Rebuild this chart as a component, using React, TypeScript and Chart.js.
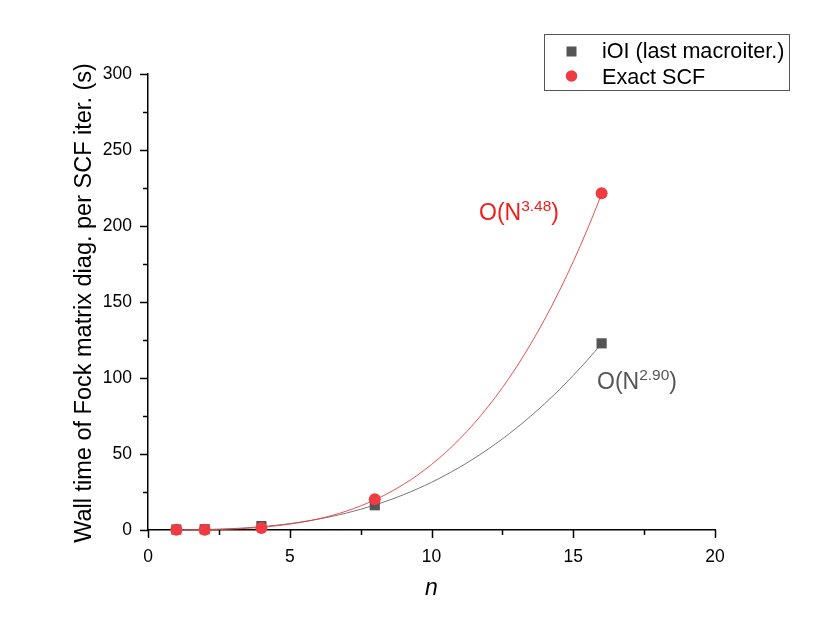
import React, { useEffect, useRef } from 'react';
import { Chart, registerables } from 'chart.js';

Chart.register(...registerables);

// ---- data ----
const nValues = [1, 2, 4, 8, 16];
const ioiTimes = [0.3, 0.5, 2.6, 16.3, 122.8];
const exactTimes = [0.1, 0.2, 1.3, 20.2, 221.5];
// power-law fits y = coef * n^exponent (exponents as labelled on the chart)
const ioiFitCoef = 0.0395;
const ioiFitExponent = 2.9;
const exactFitCoef = 0.01426;
const exactFitExponent = 3.48;
const fitRange = [1, 16];
const xMajorTicks = [0, 5, 10, 15, 20];
const yMajorTicks = [0, 50, 100, 150, 200, 250, 300];

const legendLabels = ['iOI (last macroiter.)', 'Exact SCF'];
const yTitle = 'Wall time of Fock matrix diag. per SCF iter. (s)';
const xTitle = 'n';

const FONT = '"Liberation Sans", Arial, Helvetica, sans-serif';
const RED = '#EF3B41';
const GRAY = '#555555';

function fitCurve(coef: number, exponent: number) {
  const pts: { x: number; y: number }[] = [];
  for (let x = fitRange[0]; x <= fitRange[1] + 1e-9; x += 0.25) {
    pts.push({ x, y: coef * Math.pow(x, exponent) });
  }
  return pts;
}

const decor = {
  id: 'decor',
  afterDraw(chart: any) {
    const ctx: CanvasRenderingContext2D = chart.ctx;
    const xs = chart.scales.x;
    const ys = chart.scales.y;
    const area = chart.chartArea;
    ctx.save();
    // tick marks (major + minor), outward
    ctx.strokeStyle = '#000';
    ctx.lineWidth = 1.5;
    for (let v = 0; v <= 20 + 1e-9; v += 2.5) {
      const px = Math.round(xs.getPixelForValue(v)) + 0.5;
      const len = xMajorTicks.includes(v) ? 8 : 5;
      ctx.beginPath();
      ctx.moveTo(px, area.bottom);
      ctx.lineTo(px, area.bottom + len);
      ctx.stroke();
    }
    for (let v = 0; v <= 300 + 1e-9; v += 25) {
      const py = Math.round(ys.getPixelForValue(v)) + 0.5;
      const len = yMajorTicks.includes(v) ? 8 : 5;
      ctx.beginPath();
      ctx.moveTo(area.left, py);
      ctx.lineTo(area.left - len, py);
      ctx.stroke();
    }

    // axis titles
    ctx.fillStyle = '#000';
    ctx.font = `23.5px ${FONT}`;
    ctx.textAlign = 'center';
    ctx.textBaseline = 'alphabetic';
    ctx.save();
    ctx.translate(91, (area.top + area.bottom) / 2 + 1);
    ctx.rotate(-Math.PI / 2);
    ctx.fillText(yTitle, 0, 0);
    ctx.restore();
    ctx.font = `italic 23px ${FONT}`;
    ctx.fillText(xTitle, (area.left + area.right) / 2, 595);

    // legend
    ctx.strokeStyle = '#555';
    ctx.lineWidth = 1;
    ctx.strokeRect(544.5, 34.5, 245, 56);
    ctx.fillStyle = GRAY;
    ctx.fillRect(566.5, 46.5, 10, 10);
    ctx.fillStyle = RED;
    ctx.beginPath();
    ctx.arc(571.5, 76, 5.8, 0, Math.PI * 2);
    ctx.fill();
    ctx.fillStyle = '#000';
    ctx.font = `21.6px ${FONT}`;
    ctx.textAlign = 'left';
    ctx.fillText(legendLabels[0], 602, 58);
    ctx.fillText(legendLabels[1], 602, 84);

    // scaling annotations
    const annot = (x: number, y: number, exp: string, color: string) => {
      ctx.fillStyle = color;
      ctx.textAlign = 'left';
      ctx.font = `23px ${FONT}`;
      const a = 'O(N';
      ctx.fillText(a, x, y);
      let cx = x + ctx.measureText(a).width;
      ctx.font = `15.5px ${FONT}`;
      ctx.fillText(exp, cx, y - 9);
      cx += ctx.measureText(exp).width;
      ctx.font = `23px ${FONT}`;
      ctx.fillText(')', cx, y);
    };
    annot(479, 220, exactFitExponent.toFixed(2), '#F21C1C');
    annot(597, 389, ioiFitExponent.toFixed(2), '#555555');
    ctx.restore();
  },
};

export default function App() {
  const ref = useRef<HTMLCanvasElement>(null);
  useEffect(() => {
    const canvas = ref.current!;
    const chart = new Chart(canvas, {
      type: 'scatter',
      data: {
        datasets: [
          {
            label: legendLabels[1],
            data: nValues.map((n, i) => ({ x: n, y: exactTimes[i] })),
            pointStyle: 'circle',
            pointRadius: 6,
            backgroundColor: RED,
            borderWidth: 0,
            clip: false,
          },
          {
            label: legendLabels[0],
            data: nValues.map((n, i) => ({ x: n, y: ioiTimes[i] })),
            pointStyle: 'rect',
            pointRadius: 7.2,
            backgroundColor: GRAY,
            borderWidth: 0,
            clip: false,
          },
          {
            label: 'fit exact',
            data: fitCurve(exactFitCoef, exactFitExponent),
            showLine: true,
            pointRadius: 0,
            borderColor: 'rgba(240,60,60,0.9)',
            borderWidth: 1,
            fill: false,
            clip: false,
          },
          {
            label: 'fit iOI',
            data: fitCurve(ioiFitCoef, ioiFitExponent),
            showLine: true,
            pointRadius: 0,
            borderColor: '#777777',
            borderWidth: 1,
            fill: false,
            clip: false,
          },
        ],
      } as any,
      options: {
        responsive: false,
        animation: false,
        devicePixelRatio: 1,
        layout: { padding: { left: 0, top: 74, right: 115, bottom: 0 } },
        plugins: { legend: { display: false }, tooltip: { enabled: false } },
        scales: {
          x: {
            type: 'linear',
            min: 0,
            max: 20,
            afterFit: (s: any) => {
              s.height = 106;
            },
            grid: { display: false, tickLength: 8 },
            border: { color: '#000', width: 1.5 },
            ticks: {
              stepSize: 5,
              padding: 9,
              color: '#000',
              font: { family: FONT, size: 17.5 },
              maxRotation: 0,
            },
          },
          y: {
            type: 'linear',
            min: 0,
            max: 300,
            afterFit: (s: any) => {
              s.width = 148;
            },
            grid: { display: false, tickLength: 8 },
            border: { color: '#000', width: 1.5 },
            ticks: {
              stepSize: 50,
              padding: 8,
              color: '#000',
              font: { family: FONT, size: 17.5 },
            },
          },
        },
      } as any,
      plugins: [decor],
    });
    return () => chart.destroy();
  }, []);
  return (
    <div style={{ position: 'absolute', left: 0, top: 0, width: 830, height: 636, background: '#fff' }}>
      <canvas ref={ref} width={830} height={636} style={{ display: 'block' }} />
    </div>
  );
}
